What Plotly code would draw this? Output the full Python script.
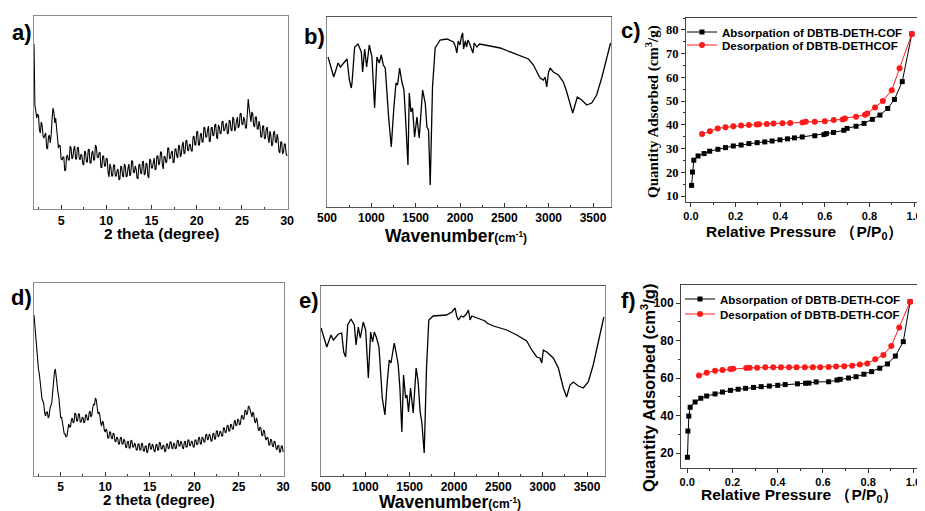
import plotly.graph_objects as go

# reference canvas, and the 8px default page margin the figure sits inside
W, H = 925, 511
OFF = 8
FW, FH = W - OFF, H - OFF

# ---------------- data ----------------
xrd_a = [165, 104, 98, 91, 95, 93, 79, 76, 87, 84, 73, 71, 74, 76, 61, 60, 72, 74, 66, 74,
         90, 101, 97, 86, 91, 83, 69, 61, 64, 63, 50, 49, 52, 52, 38, 39, 52, 54, 49, 49,
         63, 61, 50, 52, 60, 63, 50, 50, 61, 62, 51, 49, 55, 53, 45, 44, 58, 57, 47, 47,
         59, 60, 46, 46, 56, 58, 49, 49, 64, 62, 52, 51, 56, 57, 42, 41, 53, 53, 43, 43,
         51, 50, 36, 32, 45, 42, 33, 33, 44, 44, 33, 33, 38, 40, 29, 30, 43, 42, 33, 32,
         45, 43, 32, 33, 41, 45, 33, 35, 48, 48, 37, 36, 43, 40, 31, 30, 44, 45, 36, 35,
         47, 48, 34, 35, 46, 45, 33, 31, 50, 49, 41, 41, 47, 51, 39, 40, 53, 53, 44, 46,
         57, 57, 44, 40, 53, 52, 46, 48, 61, 61, 50, 51, 57, 58, 46, 47, 60, 60, 53, 51,
         64, 63, 52, 55, 64, 67, 55, 56, 68, 69, 59, 58, 65, 64, 58, 58, 72, 73, 64, 64,
         77, 78, 64, 64, 74, 76, 67, 67, 82, 81, 72, 72, 79, 83, 67, 68, 81, 82, 73, 74,
         84, 85, 72, 70, 84, 82, 75, 76, 87, 88, 78, 79, 84, 86, 75, 76, 89, 88, 79, 78,
         92, 90, 78, 80, 88, 92, 81, 83, 95, 96, 85, 84, 92, 89, 81, 81, 95, 110, 101, 89,
         87, 97, 95, 84, 82, 92, 92, 80, 80, 88, 83, 72, 72, 83, 83, 70, 71, 80, 82, 71,
         66, 78, 74, 63, 65, 76, 78, 68, 66, 75, 70, 58, 56, 67, 67, 55, 57, 65, 65, 55, 53]
xrd_d = [161, 150, 139, 126, 113, 107, 102, 94, 83, 77, 75, 72, 63, 60, 64, 64, 58, 60, 68, 71,
         73, 84, 96, 104, 107, 101, 91, 83, 78, 68, 58, 59, 54, 46, 42, 42, 39, 40, 48, 52,
         49, 49, 56, 58, 53, 54, 63, 62, 55, 55, 62, 62, 54, 54, 58, 59, 53, 54, 61, 61,
         56, 56, 63, 65, 59, 61, 68, 72, 71, 78, 76, 67, 62, 64, 61, 53, 50, 55, 53, 46,
         44, 47, 45, 38, 38, 44, 44, 38, 37, 43, 42, 35, 34, 39, 38, 32, 32, 38, 39, 32,
         32, 37, 35, 29, 28, 34, 35, 28, 28, 36, 35, 29, 29, 33, 31, 26, 26, 32, 32, 26,
         26, 33, 32, 25, 25, 30, 30, 23, 25, 32, 33, 27, 27, 32, 30, 25, 24, 31, 32, 26,
         26, 34, 33, 27, 27, 31, 30, 24, 25, 32, 32, 27, 28, 34, 34, 28, 27, 33, 32, 27,
         28, 35, 36, 30, 30, 35, 33, 28, 27, 34, 35, 29, 29, 36, 36, 30, 31, 35, 34, 29,
         29, 36, 36, 31, 32, 38, 39, 32, 32, 39, 38, 34, 34, 41, 42, 36, 37, 42, 40, 35,
         35, 42, 43, 37, 37, 45, 45, 39, 40, 45, 44, 40, 40, 48, 48, 43, 44, 50, 51, 45,
         45, 52, 51, 47, 47, 54, 56, 50, 51, 57, 56, 51, 52, 59, 61, 57, 57, 65, 66, 61,
         63, 70, 69, 66, 60, 59, 64, 62, 55, 53, 58, 55, 47, 45, 49, 48, 41, 40, 46, 45,
         38, 36, 39, 38, 31, 31, 37, 36, 30, 29, 35, 34, 28, 26, 30, 31, 24, 24, 30, 30, 24]
xrd_a_x = [round(2.0 + 0.1 * i, 1) for i in range(len(xrd_a))]
xrd_d_x = [round(2.0 + 0.1 * i, 1) for i in range(len(xrd_d))]

ir_b_wn = [512, 576, 625, 651, 726, 752, 774, 782, 812, 850, 887, 902, 925, 947, 977, 1007,
           1037, 1063, 1090, 1112, 1135, 1157, 1195, 1225, 1252, 1278, 1296, 1319, 1345, 1368,
           1383, 1398, 1413, 1428, 1447, 1465, 1488, 1514, 1540, 1578, 1608, 1627, 1645, 1664,
           1690, 1720, 1776, 1852, 1927, 1950, 1965, 1980, 2000, 2015, 2030, 2040, 2060, 2075,
           2090, 2110, 2130, 2146, 2160, 2190, 2220, 2265, 2340, 2453, 2566, 2678, 2772, 2828,
           2866, 2903, 2941, 2960, 2978, 2997, 3016, 3053, 3110, 3166, 3204, 3241, 3271, 3297,
           3323, 3372, 3429, 3485, 3541, 3598, 3654, 3698]
ir_b_t = [150, 130, 144, 140, 148, 127, 119, 124, 160, 163, 155, 135, 158, 140, 162, 150,
          99, 150, 144, 152, 142, 139, 90, 60, 97, 124, 122, 139, 125, 117,
          94, 70, 42, 114, 95, 99, 70, 90, 69, 117, 104, 80, 77, 22,
          120, 159, 167, 168, 165, 160, 154, 166, 162, 170, 174, 158, 166, 160,
          167, 163, 158, 154, 164, 160, 163, 162, 161, 159, 155, 151, 148, 142,
          135, 129, 127, 130, 120, 134, 139, 135, 132, 125, 115, 102, 94, 102,
          110, 107, 102, 104, 112, 129, 149, 164]

ir_e_wn = [501, 565, 613, 640, 696, 733, 756, 778, 801, 838, 876, 895, 921, 943, 977, 1004,
           1034, 1060, 1082, 1101, 1127, 1154, 1191, 1221, 1247, 1270, 1289, 1326, 1352, 1371,
           1390, 1401, 1412, 1431, 1454, 1469, 1487, 1510, 1540, 1573, 1596, 1618, 1637, 1664,
           1690, 1716, 1765, 1915, 1976, 2013, 2030, 2051, 2080, 2107, 2140, 2163, 2182, 2200,
           2257, 2351, 2370, 2445, 2595, 2708, 2820, 2877, 2933, 2970, 2989, 3008, 3045, 3120,
           3177, 3233, 3270, 3308, 3346, 3402, 3458, 3514, 3570, 3627, 3690]
ir_e_t = [148, 129, 141, 136, 142, 143, 124, 119, 151, 157, 151, 131, 149, 138, 154, 146,
          98, 144, 134, 144, 138, 129, 78, 61, 94, 116, 113, 133, 121, 111,
          88, 64, 44, 101, 78, 81, 64, 88, 63, 108, 94, 64, 54, 23,
          108, 156, 160, 161, 164, 168, 160, 156, 160, 159, 162, 166, 156, 160,
          158, 155, 153, 150, 146, 141, 135, 126, 119, 118, 113, 126, 124, 118,
          108, 88, 79, 91, 94, 90, 88, 94, 111, 134, 159]

c_ads_x = [0.003, 0.007, 0.013, 0.032, 0.059, 0.084, 0.121, 0.155, 0.19, 0.225, 0.26, 0.297,
           0.331, 0.364, 0.399, 0.433, 0.464, 0.499, 0.555, 0.596, 0.607, 0.639, 0.685, 0.70,
           0.74, 0.776, 0.813, 0.847, 0.882, 0.912, 0.947, 0.99]
c_ads_y = [14.5, 20.1, 25.1, 26.9, 27.9, 28.9, 29.7, 30.4, 31.1, 31.5, 32.1, 32.5,
           32.8, 33.2, 33.7, 34.1, 34.5, 34.9, 35.4, 35.9, 36.3, 36.8, 37.7, 38.5,
           39.4, 40.6, 42.3, 44.1, 46.9, 50.7, 58.2, 78.3]
c_des_x = [0.05, 0.085, 0.12, 0.155, 0.19, 0.225, 0.26, 0.295, 0.305, 0.34, 0.37, 0.41,
           0.445, 0.5, 0.515, 0.555, 0.6, 0.64, 0.68, 0.69, 0.74, 0.78, 0.79, 0.825,
           0.86, 0.9, 0.935, 0.99]
c_des_y = [36.1, 37.3, 38.5, 39.0, 39.4, 39.7, 39.9, 40.1, 40.3, 40.4, 40.6, 40.7,
           40.8, 41.0, 41.3, 41.3, 41.5, 42.0, 42.3, 42.7, 43.4, 44.2, 44.8, 47.3,
           50.0, 54.6, 63.8, 78.3]

f_ads_x = [0.001, 0.003, 0.007, 0.013, 0.035, 0.06, 0.086, 0.123, 0.156, 0.191, 0.225, 0.258,
           0.293, 0.327, 0.363, 0.4, 0.433, 0.487, 0.523, 0.538, 0.57, 0.625, 0.662, 0.676,
           0.713, 0.746, 0.781, 0.815, 0.851, 0.885, 0.92, 0.955, 0.985]
f_ads_y = [17.7, 31.7, 39.7, 44.4, 47.2, 49.2, 50.4, 51.5, 52.5, 53.4, 54.0, 54.5,
           55.0, 55.4, 55.7, 56.1, 56.5, 56.9, 57.2, 57.3, 57.9, 58.0, 58.9, 59.3,
           60.0, 60.7, 62.0, 63.4, 65.2, 67.5, 71.7, 79.4, 100.7]
f_des_x = [0.052, 0.086, 0.123, 0.156, 0.191, 0.203, 0.261, 0.276, 0.309, 0.345, 0.38, 0.414,
           0.45, 0.483, 0.52, 0.555, 0.588, 0.625, 0.658, 0.694, 0.729, 0.763, 0.796, 0.831,
           0.867, 0.902, 0.937, 0.985]
f_des_y = [61.3, 62.8, 63.9, 64.3, 64.8, 65.0, 65.3, 65.4, 65.5, 65.7, 65.7, 65.7,
           65.7, 65.8, 65.8, 65.8, 65.8, 65.9, 66.1, 66.3, 66.6, 67.2, 67.8, 70.0,
           72.3, 77.1, 86.9, 100.7]

leg_ads = "Absorpation of DBTB-DETH-COF"
leg_des_c = "Desorpation of DBTB-DETHCOF"
leg_des_f = "Desorpation of DBTB-DETH-COF"

# ---------------- figure ----------------
SANS = "Liberation Sans, Arial, sans-serif"
SERIF = "Liberation Serif, Times New Roman, serif"

def fx(px):
    return (px - OFF) / FW

def fy(py):
    return 1 - (py - OFF) / FH

boxes = {
    1: (34, 288, 16, 209),
    2: (327, 611, 17, 207),
    3: (686, 923, 18, 202),
    4: (34, 284, 283, 476),
    5: (321, 605, 286, 476),
    6: (681, 918, 285, 468),
}

fig = go.Figure()

def ax(n):
    return ("x" if n == 1 else f"x{n}"), ("y" if n == 1 else f"y{n}")

# XRD
for n, xs, ys in ((1, xrd_a_x, xrd_a), (4, xrd_d_x, xrd_d)):
    xa, ya = ax(n)
    fig.add_trace(go.Scatter(x=xs, y=ys, mode="lines", line=dict(color="black", width=1.1),
                             xaxis=xa, yaxis=ya, showlegend=False))
# IR
for n, (wx, ty) in ((2, (ir_b_wn, ir_b_t)), (5, (ir_e_wn, ir_e_t))):
    xa, ya = ax(n)
    fig.add_trace(go.Scatter(x=wx, y=ty, mode="lines", line=dict(color="black", width=1.3),
                             xaxis=xa, yaxis=ya, showlegend=False))
# Isotherms (each entry in its own legend box so rows can sit close together)
for n, lgs, (ax_, ay_, dx_, dy_, dname) in (
        (3, ("legend", "legend2"), (c_ads_x, c_ads_y, c_des_x, c_des_y, leg_des_c)),
        (6, ("legend3", "legend4"), (f_ads_x, f_ads_y, f_des_x, f_des_y, leg_des_f))):
    xa, ya = ax(n)
    fig.add_trace(go.Scatter(x=ax_, y=ay_, mode="lines+markers", name=leg_ads,
                             line=dict(color="black", width=1),
                             marker=dict(symbol="square", size=5, color="black"),
                             xaxis=xa, yaxis=ya, legend=lgs[0]))
    fig.add_trace(go.Scatter(x=dx_, y=dy_, mode="lines+markers", name=dname,
                             line=dict(color="#ff1a1a", width=1),
                             marker=dict(symbol="circle", size=6, color="#ff1a1a"),
                             xaxis=xa, yaxis=ya, legend=lgs[1]))

layout = dict(width=FW, height=FH, margin=dict(l=0, r=0, t=0, b=0, autoexpand=False),
              paper_bgcolor="white", plot_bgcolor="white", template="none",
              font=dict(family=SANS, color="black"))

def tf(size, family=SANS):
    return dict(family=family, size=size, color="black", weight="bold")

frame_grey = "#8a8a8a"

ranges_x = {1: [2, 30.1], 4: [2, 30.1], 2: [500, 3703], 5: [500, 3703],
            3: [-0.022, 1.04], 6: [-0.0275, 1.02]}
ranges_y = {1: [0, 193], 4: [0, 193], 2: [0, 190], 5: [0, 190],
            3: [7.5, 85], 6: [12, 109.6]}

for n, (x0, x1, y0, y1) in boxes.items():
    dx, dy = [fx(x0), fx(x1)], [fy(y1), fy(y0)]
    xk = "xaxis" if n == 1 else f"xaxis{n}"
    yk = "yaxis" if n == 1 else f"yaxis{n}"
    xa, ya = ax(n)
    xcfg = dict(domain=dx, range=ranges_x[n], anchor=ya, showgrid=False, zeroline=False,
                automargin=False, showline=True, mirror=True, linewidth=1,
                ticklabeloverflow="allow",
                ticklen=4, tickwidth=1, tickcolor="#333")
    ycfg = dict(domain=dy, range=ranges_y[n], anchor=xa, showgrid=False, zeroline=False,
                automargin=False, showline=True, mirror=True, linewidth=1)
    if n in (1, 4):
        xcfg.update(linecolor=frame_grey, ticks="inside", tick0=0, dtick=5,
                    tickfont=tf(12.5 if n == 1 else 12),
                    minor=dict(ticks="inside", dtick=2.5, tick0=0, ticklen=2, tickcolor="#333"))
        ycfg.update(linecolor=frame_grey, showticklabels=False, ticks="")
    elif n in (2, 5):
        xcfg.update(linecolor="#555", ticks="inside", tick0=0, dtick=500, tickfont=tf(12),
                    minor=dict(ticks="inside", dtick=250, tick0=0, ticklen=2, tickcolor="#333"))
        ycfg.update(linecolor=frame_grey, showticklabels=False, ticks="")
    else:
        xcfg.update(linecolor="#444", ticks="outside", tick0=0, dtick=0.2, tickformat=".1f",
                    tickfont=tf(11),
                    minor=dict(ticks="outside", dtick=0.1, tick0=0, ticklen=2, tickcolor="#333"))
        if n == 3:
            ycfg.update(linecolor="#444", ticks="outside", ticklen=4, tickcolor="#333",
                        tick0=0, dtick=10, tickfont=tf(12.5, SERIF),
                        minor=dict(ticks="outside", dtick=5, tick0=0, ticklen=2, tickcolor="#333"))
        else:
            ycfg.update(linecolor="#444", ticks="outside", ticklen=4, tickcolor="#333",
                        tick0=0, dtick=20, tickfont=tf(12),
                        minor=dict(ticks="outside", dtick=10, tick0=0, ticklen=2, tickcolor="#333"))
    layout[xk] = xcfg
    layout[yk] = ycfg

legfont = dict(family=SANS, size=11.5, color="black", weight="bold")
for key, lx, ly in (("legend", 682, 32), ("legend2", 682, 45),
                    ("legend3", 680, 299), ("legend4", 680, 314)):
    layout[key] = dict(x=fx(lx), y=fy(ly), xanchor="left", yanchor="middle",
                       bgcolor="rgba(0,0,0,0)", font=legfont, itemwidth=30,
                       tracegroupgap=0, borderwidth=0)

fig.update_layout(**layout)

def ann(text, x, y, size, family=SANS, angle=0, weight="bold"):
    fig.add_annotation(text=text, x=fx(x), y=fy(y), xref="paper", yref="paper",
                       showarrow=False, textangle=angle, xanchor="center", yanchor="middle",
                       font=dict(family=family, size=size, color="black", weight=weight))

# panel letters
for t, x, y in (("a)", 22, 33), ("b)", 314, 37), ("c)", 631, 30),
                ("d)", 21, 297), ("e)", 309, 300), ("f)", 628, 300)):
    ann(t, x, y, 22)

# axis titles
ann("2 theta (degree)", 161, 234, 15.5)
ann("2 theta (degree)", 159, 499, 15)
wn_title = "Wavenumber<span style='font-size:12px'>(cm<sup>-1</sup>)</span>"
ann(wn_title, 456, 236, 17.5)
ann(wn_title, 450, 502, 17.5)
rp_title = "Relative Pressure （P/P<sub>0</sub>）"
ann(rp_title, 804, 232, 15.5)
ann(rp_title, 799, 495, 15.5)
ann("Quantity Adsorbed (cm<sup>3</sup>/g)", 653, 112, 15, family=SERIF, angle=-90)
ann("Quantity Adsorbed (cm<sup>3</sup>/g)", 648, 388, 16.5, angle=-90)

fig.write_html("out.html")
